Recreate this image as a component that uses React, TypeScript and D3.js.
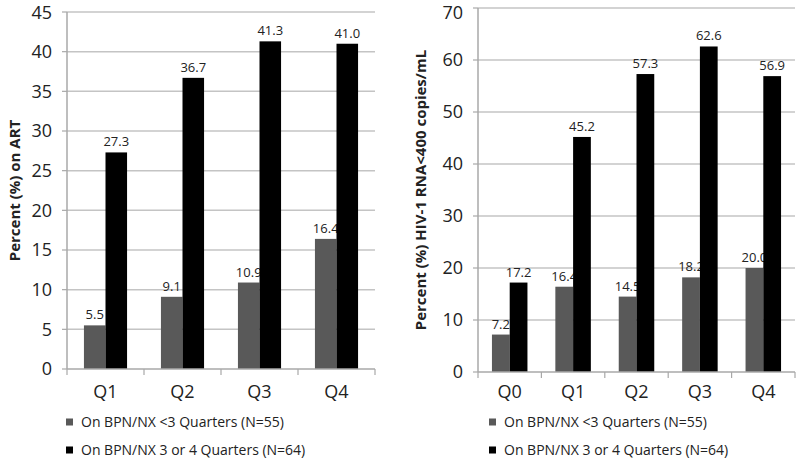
import React from "react";
import * as d3 from "d3";

const seriesNames = ["On BPN/NX <3 Quarters (N=55)", "On BPN/NX 3 or 4 Quarters (N=64)"];
const seriesColors = ["#595959", "#000000"];

const leftCategories = ["Q1", "Q2", "Q3", "Q4"];
const leftLow = [5.5, 9.1, 10.9, 16.4];
const leftHigh = [27.3, 36.7, 41.3, 41.0];
const leftTicks = [0, 5, 10, 15, 20, 25, 30, 35, 40, 45];

const rightCategories = ["Q0", "Q1", "Q2", "Q3", "Q4"];
const rightLow = [7.2, 16.4, 14.5, 18.2, 20.0];
const rightHigh = [17.2, 45.2, 57.3, 62.6, 56.9];
const rightTicks = [0, 10, 20, 30, 40, 50, 60, 70];

const FONT = "'Open Sans', 'DejaVu Sans', sans-serif";

type PanelProps = {
  categories: string[];
  low: number[];
  high: number[];
  ticks: number[];
  yMax: number;
  x0: number;
  x1: number;
  yTop: number;
  yBottom: number;
  title: string;
  titleX: number;
  legendX: number;
};

function Panel(p: PanelProps) {
  const x = d3.scaleBand<string>().domain(p.categories).range([p.x0, p.x1]).padding(0);
  const cw = x.bandwidth();
  const sub = d3.scaleBand<number>().domain([0, 1]).range([cw * 0.22, cw * 0.78]).padding(0);
  const y = d3.scaleLinear().domain([0, p.yMax]).range([p.yBottom, p.yTop]);
  const series = [p.low, p.high];
  const midY = (p.yTop + p.yBottom) / 2;
  return (
    <g>
      {p.ticks.map((t) => (
        <g key={t}>
          {t > 0 && (
            <line x1={p.x0} x2={p.x1} y1={y(t)} y2={y(t)} stroke="#c4c4c4" strokeWidth={1.5} />
          )}
          <line x1={p.x0 - 5} x2={p.x0} y1={y(t)} y2={y(t)} stroke="#a8a8a8" strokeWidth={1.2} />
          <text x={p.x0 - 15} y={Math.max(y(t), 13)} dy="0.35em" textAnchor="end" fontSize={18} fill="#222" fontFamily={FONT}>
            {t}
          </text>
        </g>
      ))}
      {p.categories.map((c, i) =>
        series.map((vals, s) => {
          const bx = (x(c) as number) + (sub(s) as number);
          const bw = sub.bandwidth();
          return (
            <g key={c + s}>
              <rect x={bx} y={y(vals[i])} width={bw} height={y(0) - y(vals[i])} fill={seriesColors[s]} />
              <text
                x={bx + bw / 2}
                y={y(vals[i]) - 6}
                textAnchor="middle"
                fontSize={13}
                fill="#222"
                fontFamily={FONT}
              >
                {vals[i].toFixed(1)}
              </text>
            </g>
          );
        })
      )}
      <line x1={p.x0} x2={p.x0} y1={p.yTop} y2={p.yBottom} stroke="#a8a8a8" strokeWidth={1.5} />
      <line x1={p.x0} x2={p.x1} y1={p.yBottom} y2={p.yBottom} stroke="#a8a8a8" strokeWidth={1.5} />
      {p.categories.map((c) => (
        <line key={"t" + c} x1={x(c) as number} x2={x(c) as number} y1={p.yBottom} y2={p.yBottom + 6} stroke="#a8a8a8" strokeWidth={1.2} />
      ))}
      <line x1={p.x1} x2={p.x1} y1={p.yBottom} y2={p.yBottom + 6} stroke="#a8a8a8" strokeWidth={1.2} />
      {p.categories.map((c) => (
        <text key={"l" + c} x={(x(c) as number) + cw / 2} y={398} textAnchor="middle" fontSize={18} fill="#222" fontFamily={FONT}>
          {c}
        </text>
      ))}
      <text
        transform={`translate(${p.titleX},${midY}) rotate(-90)`}
        textAnchor="middle"
        dy="0.35em"
        fontSize={15}
        fontWeight="bold"
        fill="#222"
        fontFamily={FONT}
      >
        {p.title}
      </text>
      {seriesNames.map((n, s) => (
        <g key={n} transform={`translate(${p.legendX},${422 + s * 28})`}>
          <rect x={0} y={-3.5} width={7} height={7} fill={seriesColors[s]} />
          <text x={15} y={0} dy="0.35em" fontSize={14} fill="#222" fontFamily={FONT}>
            {n}
          </text>
        </g>
      ))}
    </g>
  );
}

export default function App() {
  return (
    <svg width={800} height={464} style={{ position: "absolute", left: 0, top: 0, background: "#fff" }}>
      <rect width={800} height={464} fill="#fff" />
      <Panel
        categories={leftCategories}
        low={leftLow}
        high={leftHigh}
        ticks={leftTicks}
        yMax={45}
        x0={67}
        x1={375}
        yTop={12}
        yBottom={369}
        title="Percent (%) on ART"
        titleX={15}
        legendX={66}
      />
      <Panel
        categories={rightCategories}
        low={rightLow}
        high={rightHigh}
        ticks={rightTicks}
        yMax={70}
        x0={478}
        x1={795}
        yTop={8}
        yBottom={372}
        title="Percent (%) HIV-1 RNA<400 copies/mL"
        titleX={421}
        legendX={489}
      />
    </svg>
  );
}
